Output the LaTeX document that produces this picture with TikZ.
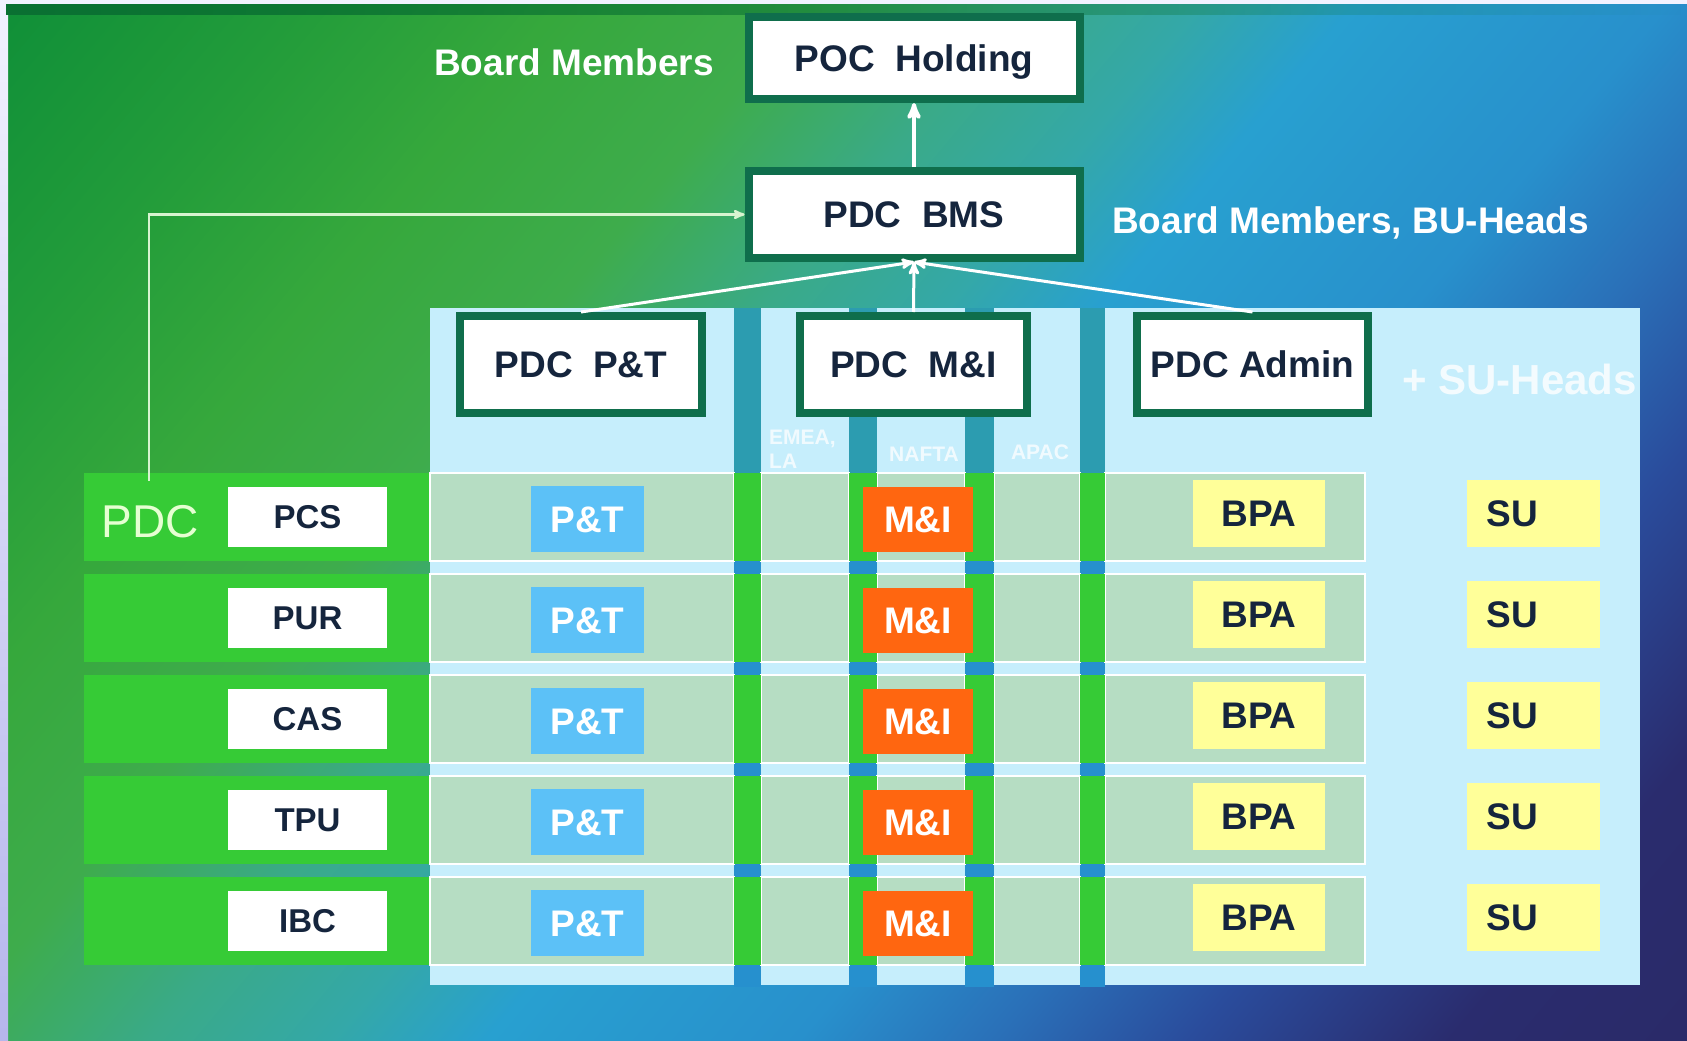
\documentclass[tikz,border=0pt]{standalone}
\usepackage{fontspec}
\setmainfont{Liberation Sans}
\usetikzlibrary{arrows,shapes,fadings}

\definecolor{bg0}{HTML}{0E8E38}
\definecolor{bg1}{HTML}{229C3A}
\definecolor{bg2}{HTML}{36A83C}
\definecolor{bg3}{HTML}{3EAC4C}
\definecolor{bg4}{HTML}{3AAA88}
\definecolor{bg5}{HTML}{34A8A8}
\definecolor{bg6}{HTML}{28A0D0}
\definecolor{bg7}{HTML}{2890CC}
\definecolor{bg8}{HTML}{2A70B8}
\definecolor{bg9}{HTML}{2A4C9C}
\definecolor{bg10}{HTML}{2A2C6E}
\definecolor{bg11}{HTML}{2A2A68}
\definecolor{boxgreen}{HTML}{0F6E4C}
\definecolor{txtnavy}{HTML}{15253D}
\definecolor{panelblue}{HTML}{C6EEFC}
\definecolor{cellgreen}{HTML}{B6DDC3}
\definecolor{bandgreen}{HTML}{36CB36}
\definecolor{gapteal}{HTML}{2C9CB0}
\definecolor{gapblue}{HTML}{2690CE}
\definecolor{ptblue}{HTML}{5CC1F7}
\definecolor{miorange}{HTML}{FF6610}
\definecolor{bpayellow}{HTML}{FFFF99}
\definecolor{pdcpale}{HTML}{E6FFD2}
\definecolor{linkpale}{HTML}{D8F4D0}
\definecolor{topgreen}{HTML}{0A7032}

\pgfdeclarehorizontalshading{bgshade}{100bp}{color(0bp)=(bg0); color(25bp)=(bg0);
  color(31.25bp)=(bg1); color(36.25bp)=(bg2); color(41bp)=(bg3); color(45bp)=(bg4);
  color(48.5bp)=(bg5); color(51.5bp)=(bg6); color(57.5bp)=(bg7); color(61.25bp)=(bg8);
  color(65bp)=(bg9); color(70bp)=(bg10); color(75bp)=(bg11); color(100bp)=(bg11)}
\tikzfading[name=fade_east, left color=transparent!0, right color=transparent!100]

\newcommand{\orgbig}{\fontsize{37}{40}\selectfont\bfseries}
\newcommand{\orgmid}{\fontsize{33}{36}\selectfont\bfseries}
\newcommand{\orgsmall}{\fontsize{21}{24}\selectfont\bfseries}

\tikzset{
  orgnode/.style = {align=center, inner sep=0pt, font=\orgbig},
  org_head/.style = {orgnode, rectangle, draw=boxgreen, line width=8pt, fill=white,
    text=txtnavy, text height=26.5pt, text depth=0pt},% boite de direction
  org_unit/.style = {orgnode, fill=white, text=txtnavy, font=\orgmid,
    minimum width=159pt, minimum height=60pt, text height=23.6pt, text depth=0pt},% unite PDC
  org_pt/.style = {orgnode, fill=ptblue, text=white, minimum width=113pt,
    minimum height=66pt, text height=26.5pt, text depth=0pt},% P&T
  org_mi/.style = {orgnode, fill=miorange, text=white, minimum width=110pt,
    minimum height=65pt, text height=26.5pt, text depth=0pt},% M&I
  org_bpa/.style = {orgnode, fill=bpayellow, text=txtnavy, minimum width=132pt,
    minimum height=67pt, text height=26.5pt, text depth=0pt},% BPA
  org_su/.style = {org_bpa, minimum width=133pt, text width=93pt, align=left,
    inner xsep=20pt},% SU
  org_cell/.style = {fill=cellgreen, draw=white, line width=1.5pt},
  org_lbl/.style = {orgnode, text=white},
  org_pdc/.style = {orgnode, font=\fontsize{46}{50}\selectfont, text=pdcpale},
  org_plus/.style = {orgnode, font=\fontsize{42}{46}\selectfont\bfseries, text=white,
    text opacity=0.8},
  org_small/.style = {orgnode, font=\orgsmall, text=white, text opacity=0.75, align=left},
  org_link/.style = {draw=white, line width=3pt}
}

\begin{document}
\begin{tikzpicture}[x=1pt, y=-1pt, >=stealth']
\useasboundingbox (0,0) rectangle (1687,1041);
% fond
\begin{scope}
  \clip (0,0) rectangle (1687,1041);
  \shade[shading=bgshade, shading angle=-40] (-156.5,-479.5) rectangle (1843.5,1520.5);
\end{scope}
\shade[top color=white!95!blue, bottom color=blue!25!white!85!gray] (0,0) rectangle (8,1041);
\fill[white!95!blue] (8,0) rectangle (1687,4);
\fill[topgreen, path fading=fade_east] (8,4) rectangle (1687,15);

% colonnes
\fill[panelblue] (430,308) rectangle (734,985);
\fill[panelblue] (761,308) rectangle (849,985);
\fill[panelblue] (877,308) rectangle (965,985);
\fill[panelblue] (994,308) rectangle (1080,985);
\fill[panelblue] (1105,308) rectangle (1640,985);
\foreach \a/\b in {734/761, 849/877, 965/994, 1080/1105}{
  \fill[gapteal] (\a,308) rectangle (\b,473);
  \fill[gapblue] (\a,473) rectangle (\b,987);
}
\node[org_small, anchor=north west] (emea) at (769,430) {EMEA,\\LA};
\node[org_small] (nafta) at (924,454) {NAFTA};
\node[org_small] (apac) at (1040,452) {APAC};
\node[org_plus, anchor=base west] (suheads) at (1402,394) {+ SU-Heads};

% lignes
\foreach \u [count=\i] in {PCS,PUR,CAS,TPU,IBC}{
  \pgfmathsetmacro\y{517+101*(\i-1)}
  \fill[bandgreen] (84,\y-44) rectangle (430,\y+44);
  \foreach \a/\b in {430/734, 761/849, 877/965, 994/1080, 1105/1365}
    \draw[org_cell] (\a,\y-44) rectangle (\b,\y+44);
  \foreach \a/\b in {734/761, 849/877, 965/994, 1080/1105}
    \fill[bandgreen] (\a,\y-44) rectangle (\b,\y+44);
  \node[org_unit] (unit-\i) at (307.5,\y) {\u};
  \node[org_pt] (ptbox-\i) at (587.5,\y+2) {P\&T};
  \node[org_mi] (mibox-\i) at (918,\y+2) {M\&I};
  \node[org_bpa] (bpa-\i) at (1259,\y-4) {BPA};
  \node[org_su] (su-\i) at (1533,\y-4) {SU};
}
\node[org_pdc, anchor=base] (pdc) at (150,537) {PDC};

% directions
\node[org_head, minimum width=331pt, minimum height=82pt] (poc) at (914,58) {POC\ \ Holding};
\node[org_head, minimum width=331pt, minimum height=87pt] (bms) at (914,214.5) {PDC\ \ BMS};
\node[org_head, minimum width=242pt, minimum height=97pt] (pt) at (581,364.5) {PDC\ \ P\&T};
\node[org_head, minimum width=227pt, minimum height=97pt] (mi) at (913.5,364.5) {PDC\ \ M\&I};
\node[org_head, minimum width=231pt, minimum height=97pt] (admin) at (1252.5,364.5) {PDC Admin};
\node[org_lbl, anchor=base east] (bm) at (714,75) {Board Members};
\node[org_lbl, anchor=base west] (bmbu) at (1112,233) {Board Members, BU-Heads};

\coordinate (pdctop) at (149,481);
\draw[org_link, line width=4pt, ->] (bms.north) -- (poc.south);
\draw[org_link, ->] (pt.north) -- (bms.south);
\draw[org_link, ->] (mi.north) -- (bms.south);
\draw[org_link, ->] (admin.north) -- (bms.south);
\draw[org_link, draw=linkpale, line width=2.5pt, ->] (pdctop) |- (bms.west);
\end{tikzpicture}
\end{document}
